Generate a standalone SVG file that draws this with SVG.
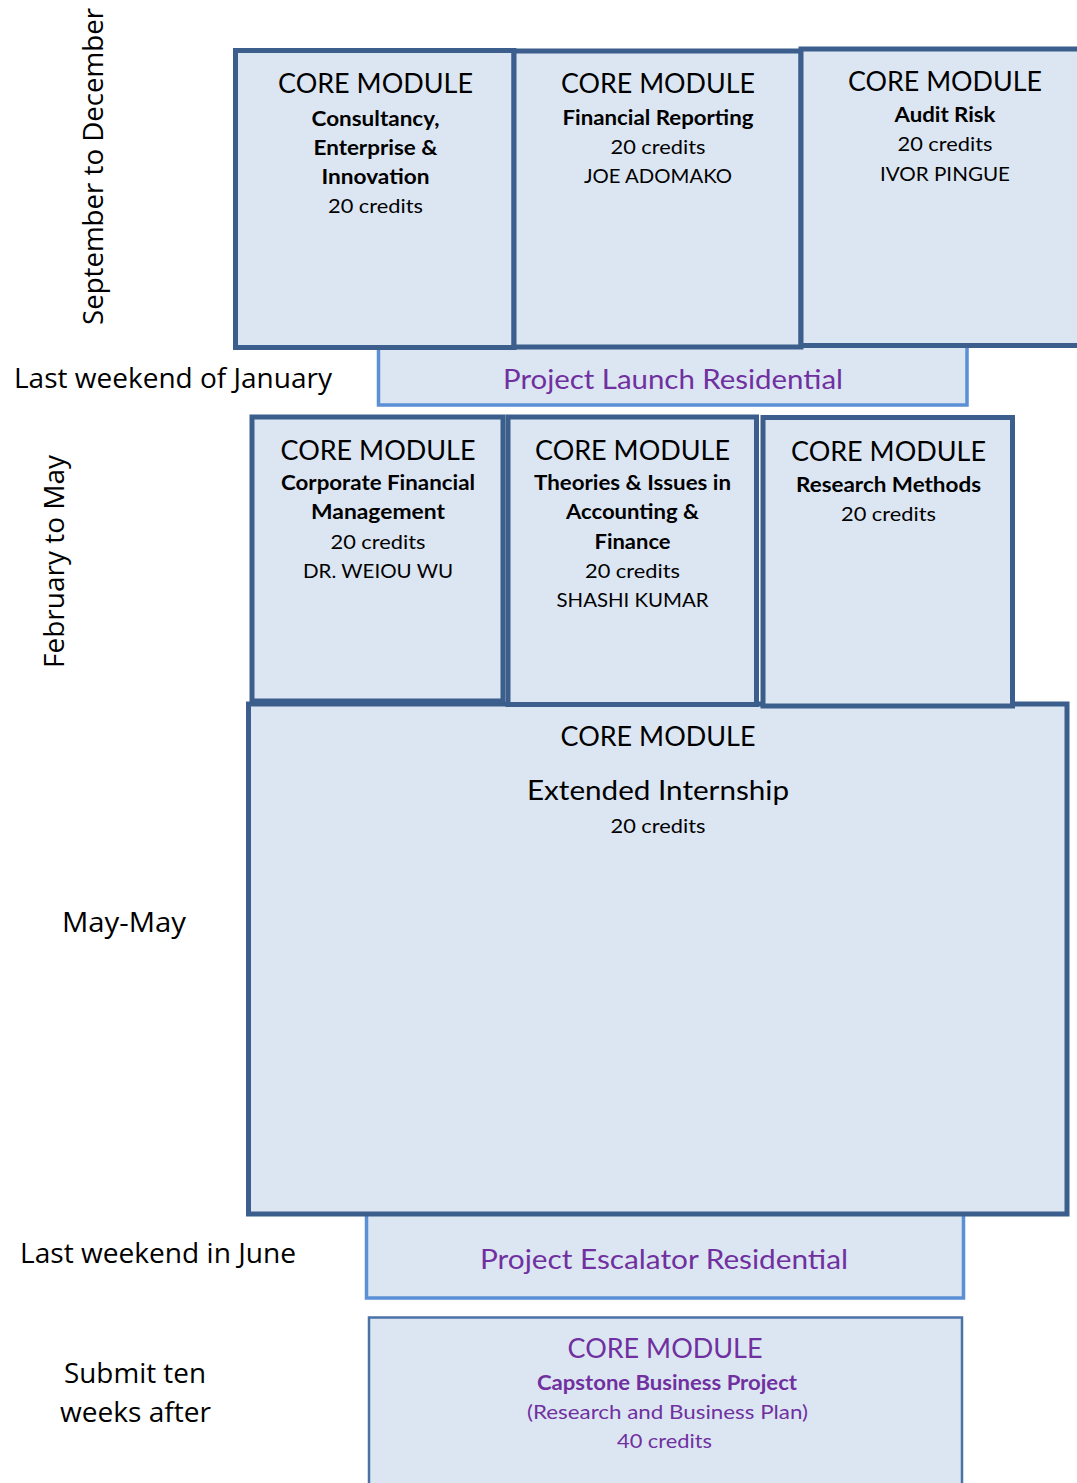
<svg xmlns="http://www.w3.org/2000/svg" width="1077" height="1483" viewBox="0 0 1077 1483">
<style>
.box{fill:#dce6f2;stroke:#3b5e8c;stroke-width:5}
.res{fill:#dce6f2;stroke:#5b8fd6;stroke-width:3.5}
.cap{fill:#dce6f2;stroke:#4a72a6;stroke-width:2.5}
.t{font-family:Lato,"Liberation Sans",sans-serif;text-anchor:middle;fill:#000}
.h{font-size:26px}
.n{font-size:20px}
.b{font-size:20.5px;font-weight:bold}
.p{fill:#7030a0}
.lab{font-family:"Open Sans","Liberation Sans",sans-serif;font-size:28px;text-anchor:middle;fill:#000}
</style>
<rect width="1077" height="1483" fill="#ffffff"/>
<g id="connectors"/>
<g id="labels">
<text class="lab" transform="translate(103,166.5) rotate(-90)" textLength="317" lengthAdjust="spacingAndGlyphs">September to December</text>
<text class="lab" x="173" y="388" textLength="318" lengthAdjust="spacingAndGlyphs">Last weekend of January</text>
<text class="lab" transform="translate(64,561.5) rotate(-90)" textLength="213" lengthAdjust="spacingAndGlyphs">February to May</text>
<text class="lab" x="124" y="932" textLength="124" lengthAdjust="spacingAndGlyphs">May-May</text>
<text class="lab" x="158" y="1263" textLength="276" lengthAdjust="spacingAndGlyphs">Last weekend in June</text>
<text class="lab" x="135" y="1383" textLength="142" lengthAdjust="spacingAndGlyphs">Submit ten</text>
<text class="lab" x="135.5" y="1422" textLength="151" lengthAdjust="spacingAndGlyphs">weeks after</text>
</g>
<g id="launch">
<rect class="res" x="378.5" y="330" width="588.5" height="75"/>
<text class="t h p" x="673" y="389" textLength="340" lengthAdjust="spacingAndGlyphs">Project Launch Residential</text>
</g>
<g id="m1">
<rect class="box" x="235.5" y="50.5" width="278.5" height="297"/>
<text class="t h" x="375.5" y="93" textLength="195" lengthAdjust="spacingAndGlyphs">CORE MODULE</text>
<text class="t b" x="375.5" y="126" textLength="128" lengthAdjust="spacingAndGlyphs">Consultancy,</text>
<text class="t b" x="375.5" y="155" textLength="124" lengthAdjust="spacingAndGlyphs">Enterprise &amp;</text>
<text class="t b" x="375.5" y="184" textLength="108" lengthAdjust="spacingAndGlyphs">Innovation</text>
<text class="t n" x="375.5" y="213" textLength="95" lengthAdjust="spacingAndGlyphs">20 credits</text>
</g>
<g id="m2">
<rect class="box" x="514" y="51" width="287" height="296"/>
<text class="t h" x="658" y="93" textLength="194" lengthAdjust="spacingAndGlyphs">CORE MODULE</text>
<text class="t b" x="658" y="125" textLength="191" lengthAdjust="spacingAndGlyphs">Financial Reporting</text>
<text class="t n" x="658" y="154" textLength="95" lengthAdjust="spacingAndGlyphs">20 credits</text>
<text class="t n" x="658" y="183" textLength="148" lengthAdjust="spacingAndGlyphs">JOE ADOMAKO</text>
</g>
<g id="m3">
<rect class="box" x="801" y="49" width="290" height="296.5"/>
<text class="t h" x="945" y="91" textLength="194" lengthAdjust="spacingAndGlyphs">CORE MODULE</text>
<text class="t b" x="945" y="122" textLength="101" lengthAdjust="spacingAndGlyphs">Audit Risk</text>
<text class="t n" x="945" y="151" textLength="95" lengthAdjust="spacingAndGlyphs">20 credits</text>
<text class="t n" x="945" y="181" textLength="130" lengthAdjust="spacingAndGlyphs">IVOR PINGUE</text>
</g>
<g id="escalator">
<rect class="res" x="366.5" y="1200" width="597" height="98"/>
<text class="t h p" x="664" y="1269" textLength="368" lengthAdjust="spacingAndGlyphs">Project Escalator Residential</text>
</g>
<g id="m7">
<rect class="box" x="248.5" y="704" width="818.5" height="510"/>
<text class="t h" x="658" y="746" textLength="195" lengthAdjust="spacingAndGlyphs">CORE MODULE</text>
<text class="t h" x="658" y="800" textLength="262" lengthAdjust="spacingAndGlyphs">Extended Internship</text>
<text class="t n" x="658" y="833" textLength="95" lengthAdjust="spacingAndGlyphs">20 credits</text>
</g>
<g id="m4">
<rect class="box" x="252" y="417" width="251" height="284"/>
<text class="t h" x="378" y="460" textLength="195" lengthAdjust="spacingAndGlyphs">CORE MODULE</text>
<text class="t b" x="378" y="490" textLength="194" lengthAdjust="spacingAndGlyphs">Corporate Financial</text>
<text class="t b" x="378" y="519" textLength="134" lengthAdjust="spacingAndGlyphs">Management</text>
<text class="t n" x="378" y="549" textLength="95" lengthAdjust="spacingAndGlyphs">20 credits</text>
<text class="t n" x="378" y="578" textLength="150" lengthAdjust="spacingAndGlyphs">DR. WEIOU WU</text>
</g>
<g id="m5">
<rect class="box" x="508" y="417" width="248.5" height="287.5"/>
<text class="t h" x="632.5" y="460" textLength="195" lengthAdjust="spacingAndGlyphs">CORE MODULE</text>
<text class="t b" x="632.5" y="490" textLength="197" lengthAdjust="spacingAndGlyphs">Theories &amp; Issues in</text>
<text class="t b" x="632.5" y="519" textLength="133" lengthAdjust="spacingAndGlyphs">Accounting &amp;</text>
<text class="t b" x="632.5" y="549" textLength="76" lengthAdjust="spacingAndGlyphs">Finance</text>
<text class="t n" x="632.5" y="578" textLength="95" lengthAdjust="spacingAndGlyphs">20 credits</text>
<text class="t n" x="632.5" y="607" textLength="152" lengthAdjust="spacingAndGlyphs">SHASHI KUMAR</text>
</g>
<g id="m6">
<rect class="box" x="763" y="417.5" width="249.5" height="288.5"/>
<text class="t h" x="888.5" y="461" textLength="195" lengthAdjust="spacingAndGlyphs">CORE MODULE</text>
<text class="t b" x="888.5" y="491.5" textLength="185" lengthAdjust="spacingAndGlyphs">Research Methods</text>
<text class="t n" x="888.5" y="520.5" textLength="95" lengthAdjust="spacingAndGlyphs">20 credits</text>
</g>
<g id="m8">
<rect class="cap" x="369" y="1317.5" width="593" height="200"/>
<text class="t h p" x="665" y="1358" textLength="195" lengthAdjust="spacingAndGlyphs">CORE MODULE</text>
<text class="t b p" x="667" y="1390" textLength="260" lengthAdjust="spacingAndGlyphs">Capstone Business Project</text>
<text class="t n p" x="667.5" y="1419" textLength="281" lengthAdjust="spacingAndGlyphs">(Research and Business Plan)</text>
<text class="t n p" x="664.5" y="1448" textLength="95" lengthAdjust="spacingAndGlyphs">40 credits</text>
</g>
</svg>
